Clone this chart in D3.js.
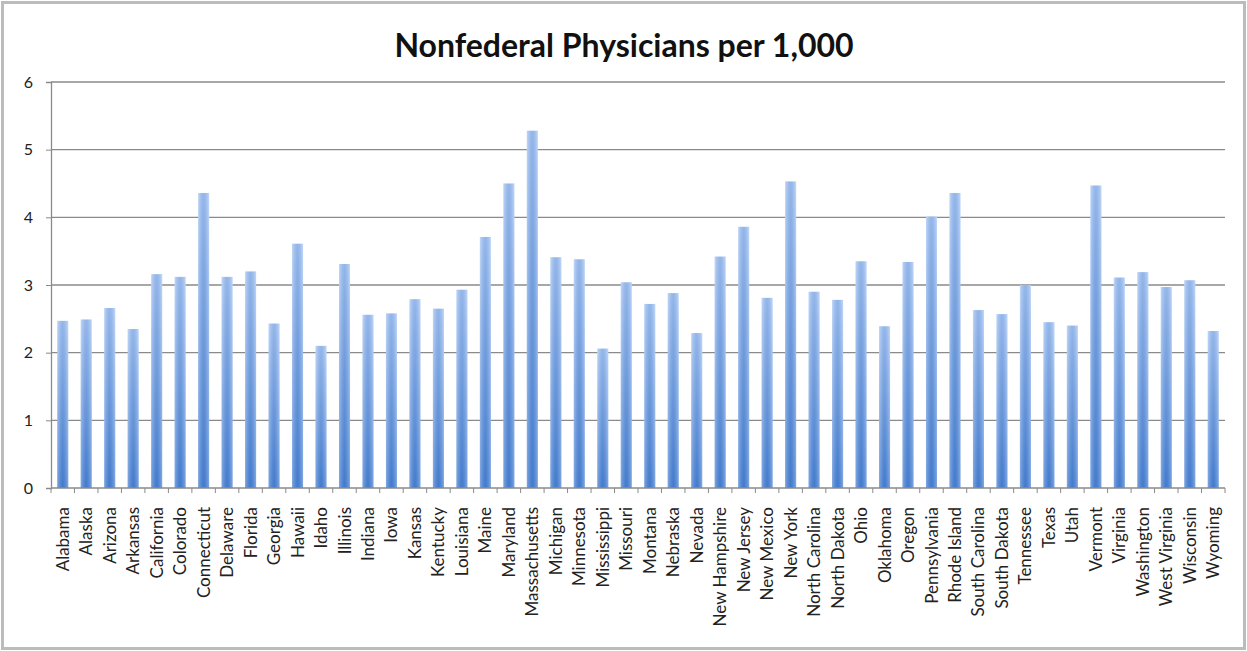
<!DOCTYPE html>
<html>
<head>
<meta charset="utf-8">
<script src="https://cdn.jsdelivr.net/npm/d3@7"></script>
<style>
  html, body { margin: 0; padding: 0; background: #fff; }
</style>
</head>
<body>
<script>
// Data
const states = [
  "Alabama", "Alaska", "Arizona", "Arkansas", "California", "Colorado",
  "Connecticut", "Delaware", "Florida", "Georgia", "Hawaii", "Idaho",
  "Illinois", "Indiana", "Iowa", "Kansas", "Kentucky", "Louisiana", "Maine",
  "Maryland", "Massachusetts", "Michigan", "Minnesota", "Mississippi",
  "Missouri", "Montana", "Nebraska", "Nevada", "New Hampshire", "New Jersey",
  "New Mexico", "New York", "North Carolina", "North Dakota", "Ohio",
  "Oklahoma", "Oregon", "Pennsylvania", "Rhode Island", "South Carolina",
  "South Dakota", "Tennessee", "Texas", "Utah", "Vermont", "Virginia",
  "Washington", "West Virginia", "Wisconsin", "Wyoming"
];
const physicians = [
  2.47, 2.49, 2.66, 2.35, 3.16, 3.12,
  4.36, 3.12, 3.20, 2.43, 3.61, 2.10,
  3.31, 2.56, 2.58, 2.79, 2.65, 2.93, 3.71,
  4.50, 5.28, 3.41, 3.38, 2.06,
  3.04, 2.72, 2.88, 2.29, 3.42, 3.86,
  2.81, 4.53, 2.90, 2.78, 3.35,
  2.39, 3.34, 4.01, 4.36, 2.63,
  2.57, 3.00, 2.45, 2.40, 4.47, 3.11,
  3.19, 2.97, 3.07, 2.32
];
const yTicks = [0, 1, 2, 3, 4, 5, 6];

const width = 1247, height = 651;
const margin = { top: 82, right: 22, bottom: 163, left: 51 };

const svg = d3.select("body").append("svg")
  .attr("width", width)
  .attr("height", height)
  .attr("font-family", "Lato, 'Open Sans', sans-serif");

// frame
svg.append("rect")
  .attr("x", 2.5).attr("y", 2.5)
  .attr("width", width - 5).attr("height", height - 5)
  .attr("fill", "#fff")
  .attr("stroke", "#bcbcbc")
  .attr("stroke-width", 3);

const defs = svg.append("defs");
const vGrad = defs.append("linearGradient")
  .attr("id", "barV").attr("x1", 0).attr("y1", 0).attr("x2", 0).attr("y2", 1);
vGrad.append("stop").attr("offset", "0%").attr("stop-color", "#a9c8f6");
vGrad.append("stop").attr("offset", "100%").attr("stop-color", "#4a82d4");

const hGrad = defs.append("linearGradient")
  .attr("id", "barH").attr("x1", 0).attr("y1", 0).attr("x2", 1).attr("y2", 0);
hGrad.append("stop").attr("offset", "0%").attr("stop-color", "#fff").attr("stop-opacity", 0.3);
hGrad.append("stop").attr("offset", "50%").attr("stop-color", "#1a4fa0").attr("stop-opacity", 0.15);
hGrad.append("stop").attr("offset", "100%").attr("stop-color", "#fff").attr("stop-opacity", 0.3);

const x = d3.scaleBand()
  .domain(states)
  .range([margin.left, width - margin.right])
  .paddingInner(0.53)
  .paddingOuter(0.265);

const y = d3.scaleLinear()
  .domain([0, 6])
  .range([height - margin.bottom, margin.top]);

// title
svg.append("text")
  .attr("x", 624)
  .attr("y", 57)
  .attr("text-anchor", "middle")
  .attr("font-size", 32)
  .attr("font-weight", "bold")
  .attr("fill", "#111")
  .text("Nonfederal Physicians per 1,000");

// gridlines
svg.append("g")
  .selectAll("line")
  .data(yTicks.filter(d => d > 0))
  .join("line")
  .attr("x1", margin.left)
  .attr("x2", width - margin.right)
  .attr("y1", d => y(d))
  .attr("y2", d => y(d))
  .attr("stroke", "#8a8a8a")
  .attr("stroke-width", 1.3);

// bars
const bars = svg.append("g")
  .selectAll("g")
  .data(states.map((s, i) => ({ state: s, value: physicians[i] })))
  .join("g");

bars.append("rect")
  .attr("x", d => x(d.state))
  .attr("y", d => y(d.value))
  .attr("width", x.bandwidth())
  .attr("height", d => y(0) - y(d.value))
  .attr("fill", "url(#barV)");

bars.append("rect")
  .attr("x", d => x(d.state))
  .attr("y", d => y(d.value))
  .attr("width", x.bandwidth())
  .attr("height", d => y(0) - y(d.value))
  .attr("fill", "url(#barH)");

// y axis
const yAxis = svg.append("g")
  .attr("transform", `translate(${margin.left},0)`)
  .call(d3.axisLeft(y).tickValues(yTicks).tickSize(5).tickPadding(13).tickFormat(d3.format("d")));
yAxis.select(".domain").attr("stroke", "#8a8a8a").attr("stroke-width", 1.3);
yAxis.selectAll(".tick line").attr("stroke", "#8a8a8a");
yAxis.selectAll(".tick text")
  .attr("font-size", 16)
  .attr("fill", "#222")
  .attr("font-family", "Lato, sans-serif");

// x axis with ticks at category boundaries
const xAxisG = svg.append("g")
  .attr("transform", `translate(0,${y(0)})`);
xAxisG.append("line")
  .attr("x1", margin.left).attr("x2", width - margin.right)
  .attr("stroke", "#8a8a8a").attr("stroke-width", 1.3);
const step = x.step();
xAxisG.selectAll(".bound")
  .data(d3.range(states.length + 1))
  .join("line")
  .attr("class", "bound")
  .attr("x1", i => margin.left + i * step)
  .attr("x2", i => margin.left + i * step)
  .attr("y1", 0).attr("y2", 5)
  .attr("stroke", "#8a8a8a");

xAxisG.selectAll(".lbl")
  .data(states)
  .join("text")
  .attr("class", "lbl")
  .attr("transform", d => `translate(${x(d) + x.bandwidth() / 2 + 6},19) rotate(-90)`)
  .attr("text-anchor", "end")
  .attr("font-size", 17)
  .attr("fill", "#222")
  .text(d => d);
</script>
</body>
</html>
